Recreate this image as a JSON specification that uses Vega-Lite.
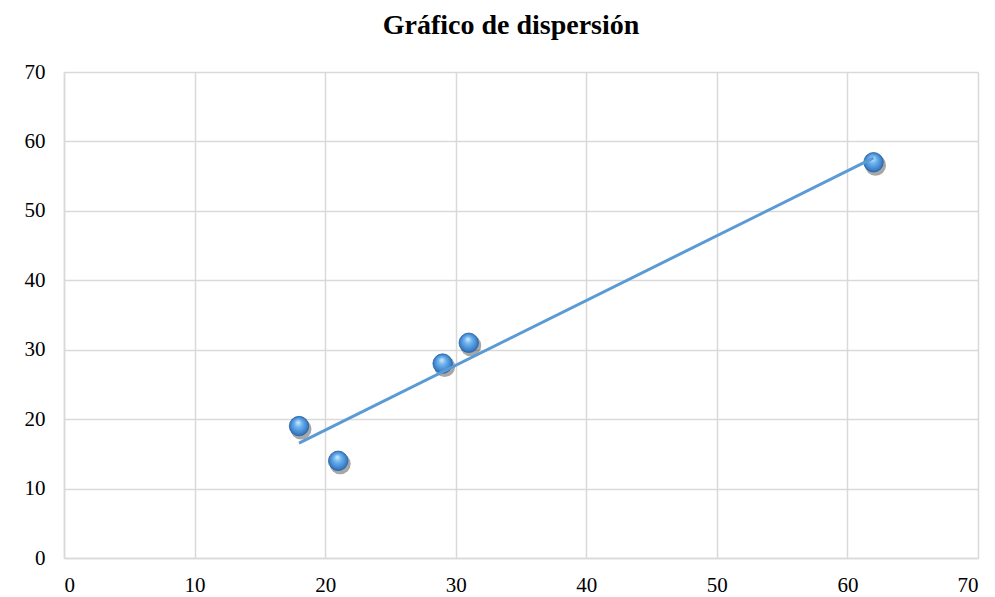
{
  "$schema": "https://vega.github.io/schema/vega-lite/v6.json",
  "autosize": "none",
  "width": 914,
  "height": 486,
  "padding": {"left": 64, "top": 72, "right": 17, "bottom": 39},
  "background": "white",
  "title": {
    "text": "Gráfico de dispersión",
    "font": "Liberation Serif",
    "fontSize": 28,
    "fontWeight": "bold",
    "color": "#000000",
    "anchor": "middle",
    "offset": 21,
    "dx": -10
  },
  "config": {
    "view": {"stroke": null},
    "axis": {
      "labelFont": "Liberation Serif",
      "labelFontSize": 21,
      "labelColor": "#000000",
      "gridColor": "#d9d9d9",
      "gridWidth": 1.5,
      "domainColor": "#d9d9d9",
      "domainWidth": 1.5,
      "ticks": false,
      "title": null
    }
  },
  "data": {
    "values": [
      {"x": 18, "y": 19},
      {"x": 21, "y": 14},
      {"x": 29, "y": 28},
      {"x": 31, "y": 31},
      {"x": 62, "y": 57}
    ]
  },
  "encoding": {
    "x": {"field": "x", "type": "quantitative", "scale": {"domain": [0, 70]}, "axis": {"values": [0,10,20,30,40,50,60,70], "labelPadding": 16,
      "encode": {"labels": {"update": {"font": {"value": "Liberation Serif"}, "fontSize": {"value": 21}, "fill": {"value": "#000000"}}}}}},
    "y": {"field": "y", "type": "quantitative", "scale": {"domain": [0, 70]}, "axis": {"values": [0,10,20,30,40,50,60,70], "labelPadding": 19,
      "encode": {"labels": {"update": {"font": {"value": "Liberation Serif"}, "fontSize": {"value": 21}, "fill": {"value": "#000000"}}}}}}
  },
  "layer": [
    {
      "mark": {"type": "circle", "size": 440, "color": "#222222", "opacity": 0.4, "xOffset": 2, "yOffset": 3}
    },
    {
      "mark": {
        "type": "circle",
        "size": 380,
        "opacity": 1,
        "stroke": "#2a62a0",
        "strokeWidth": 0.8,
        "color": {
          "gradient": "radial",
          "x1": 0.45, "y1": 0.3, "r1": 0,
          "x2": 0.5, "y2": 0.5, "r2": 0.55,
          "stops": [
            {"offset": 0, "color": "#d6edff"},
            {"offset": 0.35, "color": "#6fb4ee"},
            {"offset": 0.8, "color": "#3a80cc"},
            {"offset": 1, "color": "#2a62a0"}
          ]
        }
      }
    },
    {
      "transform": [{"regression": "y", "on": "x"}],
      "mark": {"type": "line", "color": "#5b9bd5", "strokeWidth": 3}
    }
  ]
}
